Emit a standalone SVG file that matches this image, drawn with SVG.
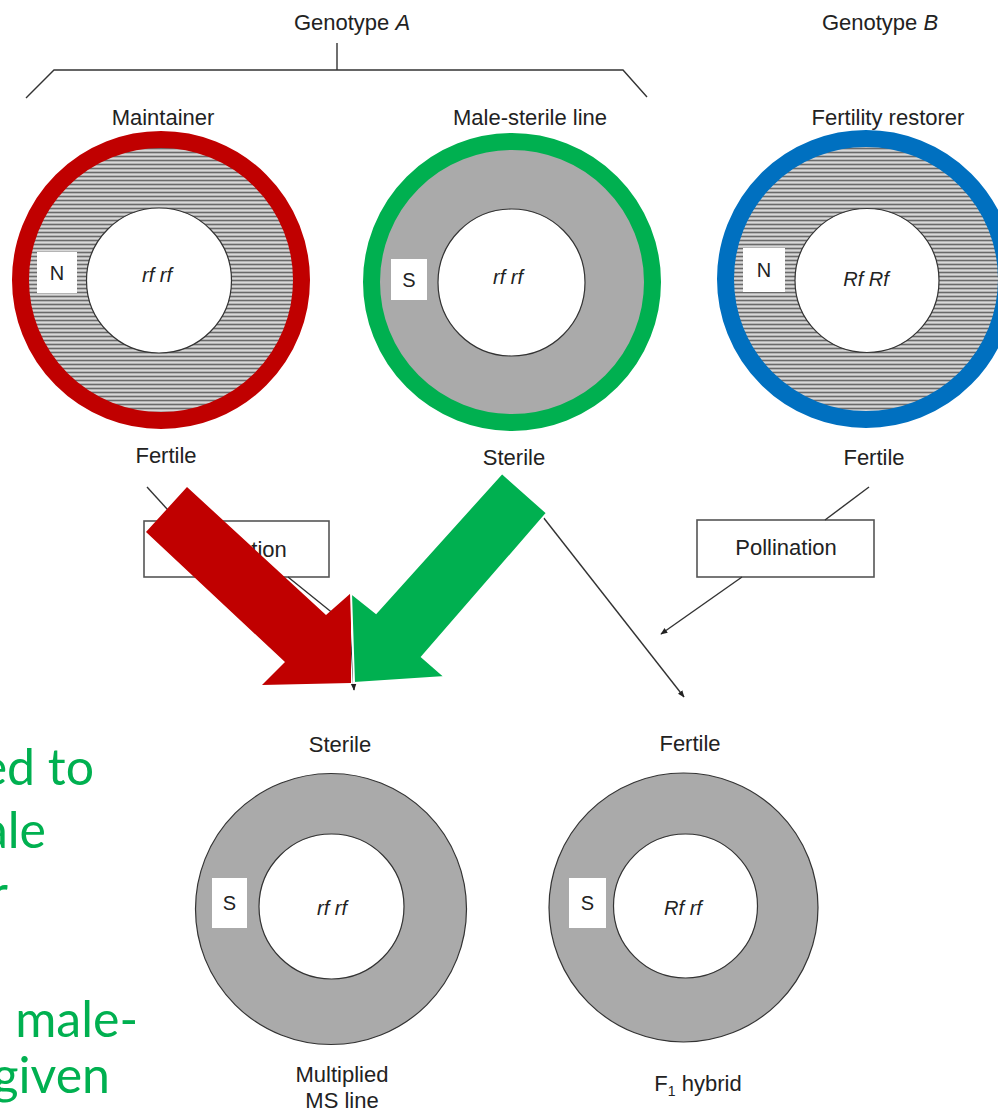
<svg xmlns="http://www.w3.org/2000/svg" width="998" height="1111" viewBox="0 0 998 1111">
<defs>
<pattern id="hatch" patternUnits="userSpaceOnUse" width="12" height="4">
<rect width="12" height="4" fill="#b4b4b4"/>
<rect y="0" width="12" height="1" fill="#6a6a6a"/>
<rect y="2" width="12" height="1" fill="#d8d8d8"/>
</pattern>
<marker id="ah" viewBox="0 0 10 10" refX="9" refY="5" markerWidth="7" markerHeight="7" orient="auto" markerUnits="userSpaceOnUse">
<path d="M0,1 L10,5 L0,9 Z" fill="#222"/>
</marker>
<style>
.t{font-family:"Liberation Sans",Arial,sans-serif;font-size:22px;fill:#222;text-anchor:middle}
.g{font-family:"Liberation Sans",Arial,sans-serif;font-size:20px;fill:#222;text-anchor:middle;font-style:italic}
.ln{stroke:#333;stroke-width:1.4;fill:none}
.box{fill:#fff;stroke:#555;stroke-width:1.6}
.inner{fill:#fff;stroke:#333;stroke-width:1.2}
.lab{fill:#fff}
.gt{font-family:"Lato","Open Sans",sans-serif;font-size:50px;fill:#00B050;text-anchor:end}
</style>
</defs>
<rect width="998" height="1111" fill="#fff"/>

<g id="header">
<text class="t" x="352" y="30">Genotype <tspan font-style="italic">A</tspan></text>
<text class="t" x="880" y="30">Genotype <tspan font-style="italic">B</tspan></text>
<path class="ln" d="M26,98 L54,70 L623,70 L647,97 M337,43 L337,70"/>
</g>

<g id="maintainer">
<text class="t" x="163" y="125">Maintainer</text>
<circle cx="161" cy="280" r="135" fill="url(#hatch)"/>
<circle cx="161" cy="280" r="140.5" fill="none" stroke="#C00000" stroke-width="17"/>
<circle class="inner" cx="159" cy="280.5" r="72.5"/>
<rect class="lab" x="37" y="252" width="40" height="41"/>
<text class="t" x="57" y="280" style="font-size:20px">N</text>
<text class="g" x="157" y="282">rf rf</text>
<text class="t" x="166" y="463">Fertile</text>
</g>

<g id="male-sterile">
<text class="t" x="530" y="125">Male-sterile line</text>
<circle cx="512" cy="282" r="135" fill="#aaaaaa"/>
<circle cx="512" cy="282" r="140.5" fill="none" stroke="#00B050" stroke-width="17"/>
<circle class="inner" cx="511.5" cy="282.5" r="73.5"/>
<rect class="lab" x="391" y="259" width="36" height="41"/>
<text class="t" x="409" y="287" style="font-size:20px">S</text>
<text class="g" x="508" y="284">rf rf</text>
<text class="t" x="514" y="465">Sterile</text>
</g>

<g id="restorer">
<text class="t" x="888" y="125">Fertility restorer</text>
<circle cx="866" cy="279" r="135" fill="url(#hatch)"/>
<circle cx="866" cy="279" r="140.5" fill="none" stroke="#0070C0" stroke-width="17"/>
<circle class="inner" cx="867" cy="280.5" r="72"/>
<rect class="lab" x="743" y="248" width="42" height="44"/>
<text class="t" x="764" y="277" style="font-size:20px">N</text>
<text class="g" x="866" y="286">Rf Rf</text>
<text class="t" x="874" y="465">Fertile</text>
</g>

<g id="pollination-left">
<rect class="box" x="144" y="521" width="185" height="56"/>
<text class="t" x="236" y="557">Pollination</text>
</g>

<g id="pollination-right">
<rect class="box" x="697" y="520" width="177" height="57"/>
<text class="t" x="786" y="555">Pollination</text>
</g>

<g id="connectors">
<line class="ln" x1="147" y1="487" x2="178" y2="521"/>
<polyline class="ln" points="288,577 350,627 354,690" marker-end="url(#ah)"/>
<line class="ln" x1="543" y1="517" x2="684" y2="697" marker-end="url(#ah)"/>
<line class="ln" x1="869" y1="487" x2="825" y2="520"/>
<line class="ln" x1="742" y1="577" x2="661" y2="634" marker-end="url(#ah)"/>
</g>

<g id="big-arrows">
<polygon points="187,487 326,615 351,593 351,683 262,685 285,662 146,532" fill="#C00000"/>
<polygon points="502,473 547,513 422,657 445,677 354,683 351,593 376,613" fill="#00B050" stroke="#fff" stroke-width="2"/>
</g>

<g id="ms-line">
<text class="t" x="340" y="752">Sterile</text>
<circle cx="331" cy="909" r="135.5" fill="#aaaaaa" stroke="#333" stroke-width="1.2"/>
<circle class="inner" cx="331.5" cy="906.5" r="72.5"/>
<rect class="lab" x="212" y="878" width="35" height="50"/>
<text class="t" x="229.5" y="910" style="font-size:20px">S</text>
<text class="g" x="332" y="915">rf rf</text>
<text class="t" x="342" y="1082">Multiplied</text>
<text class="t" x="342" y="1108">MS line</text>
</g>

<g id="f1-hybrid">
<text class="t" x="690" y="751">Fertile</text>
<circle cx="683.5" cy="907.5" r="134.5" fill="#aaaaaa" stroke="#333" stroke-width="1.2"/>
<circle class="inner" cx="685.5" cy="906" r="72"/>
<rect class="lab" x="569" y="878" width="37" height="50"/>
<text class="t" x="587.5" y="910" style="font-size:20px">S</text>
<text class="g" x="683" y="915">Rf rf</text>
<text class="t" x="698" y="1091">F<tspan font-size="14" dy="5">1</tspan><tspan dy="-5"> hybrid</tspan></text>
</g>

<g id="side-text">
<text class="gt" x="94" y="785">ed to</text>
<text class="gt" x="46" y="848">ale</text>
<text class="gt" x="8" y="911">r</text>
<text class="gt" x="138" y="1037">male-</text>
<text class="gt" x="110" y="1093">given</text>
</g>
</svg>
